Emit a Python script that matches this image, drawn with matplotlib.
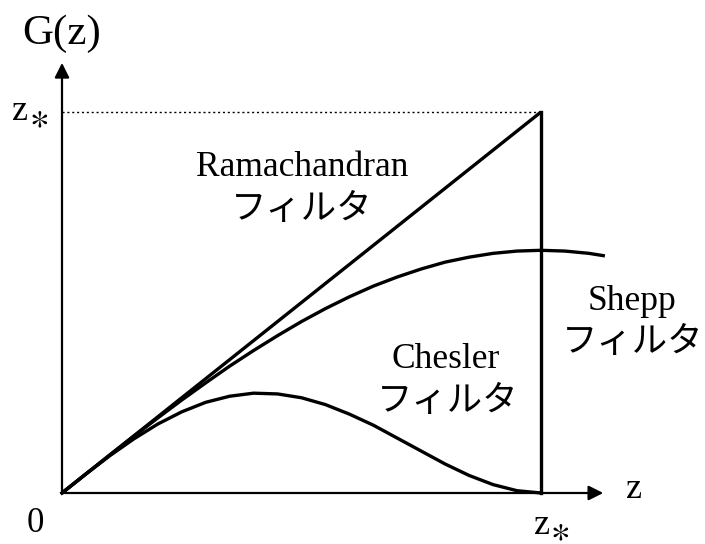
import matplotlib
matplotlib.use("Agg")
import matplotlib.pyplot as plt

plt.rcParams['mathtext.fontset'] = 'stix'

# normalized coordinates: z / z*, G / z*
z_ram = [0.0, 1.0]
g_ram = [0.0, 1.0]

z_shepp = [0.0, 0.05, 0.1, 0.15, 0.2, 0.25, 0.3, 0.35, 0.4, 0.45, 0.5, 0.55,
           0.6, 0.65, 0.7, 0.75, 0.8, 0.85, 0.9, 0.95, 1.0, 1.05, 1.1, 1.13]
g_shepp = [0.0, 0.050, 0.100, 0.149, 0.197, 0.244, 0.289, 0.333, 0.374, 0.413,
           0.450, 0.484, 0.515, 0.543, 0.567, 0.588, 0.606, 0.619, 0.629, 0.635,
           0.637, 0.635, 0.629, 0.623]

z_ches = [0.0, 0.05, 0.1, 0.15, 0.2, 0.25, 0.3, 0.35, 0.4, 0.45, 0.5, 0.55,
          0.6, 0.65, 0.7, 0.75, 0.8, 0.85, 0.9, 0.95, 1.0]
g_ches = [0.0, 0.050, 0.098, 0.142, 0.181, 0.213, 0.238, 0.254, 0.262, 0.260,
          0.250, 0.232, 0.207, 0.178, 0.144, 0.110, 0.076, 0.046, 0.022, 0.006, 0.0]

fig = plt.figure(figsize=(7.05, 5.44), dpi=100)
ax = fig.add_axes([0, 0, 1, 1])
ax.set_xlim(-62 / 479, (705 - 62) / 479)
ax.set_ylim(-51 / 381, 493 / 381)
ax.axis('off')

lw = 2.4
ax.plot(z_ram, g_ram, color='k', lw=lw, solid_capstyle='butt')
ax.plot(z_shepp, g_shepp, color='k', lw=lw)
ax.plot(z_ches, g_ches, color='k', lw=lw)
ax.plot([1, 1], [0, 1], color='k', lw=lw)
ax.plot([0, 1], [1, 1], color='k', lw=1.0, ls=(0, (1.5, 2)))

# axes with arrows
arrow = dict(arrowstyle='-|>', lw=1.6, color='k', mutation_scale=22,
             shrinkA=0, shrinkB=0)
ax.annotate('', xy=(1.13, 0), xytext=(0, 0), arrowprops=arrow)
ax.annotate('', xy=(0, 1.129), xytext=(0, 0), arrowprops=arrow)

serif = 'Liberation Serif'
jp = ['Noto Sans CJK JP', 'DejaVu Sans']
fs = 25.5

def px(x, y):
    return ((x - 62) / 479, (493 - y) / 381)

ax.text(*px(62, 34), 'G(z)', family=serif, fontsize=31, ha='center', va='center')
ax.text(*px(634, 490), 'z', family=serif, fontsize=26, ha='center', va='center')
ax.text(*px(35, 524), '0', family=serif, fontsize=25, ha='center', va='center')
# z* labels
ax.text(*px(542, 526), 'z', family=serif, fontsize=26, ha='center', va='center')
ax.text(*px(560, 531), r'$\ast$', fontsize=27, ha='center', va='center')
ax.text(*px(20, 112), 'z', family=serif, fontsize=26, ha='center', va='center')
ax.text(*px(39, 118), r'$\ast$', fontsize=27, ha='center', va='center')

ax.text(*px(302, 167), 'Ramachandran', family=serif, fontsize=fs, ha='center', va='center')
ax.text(*px(302, 209), 'フィルタ', family=jp, fontsize=fs, ha='center', va='center')
ax.text(*px(632, 301), 'Shepp', family=serif, fontsize=fs, ha='center', va='center')
ax.text(*px(633, 342), 'フィルタ', family=jp, fontsize=fs, ha='center', va='center')
ax.text(*px(446, 359), 'Chesler', family=serif, fontsize=fs, ha='center', va='center')
ax.text(*px(448, 401), 'フィルタ', family=jp, fontsize=fs, ha='center', va='center')

fig.savefig('out.png', dpi=100)
